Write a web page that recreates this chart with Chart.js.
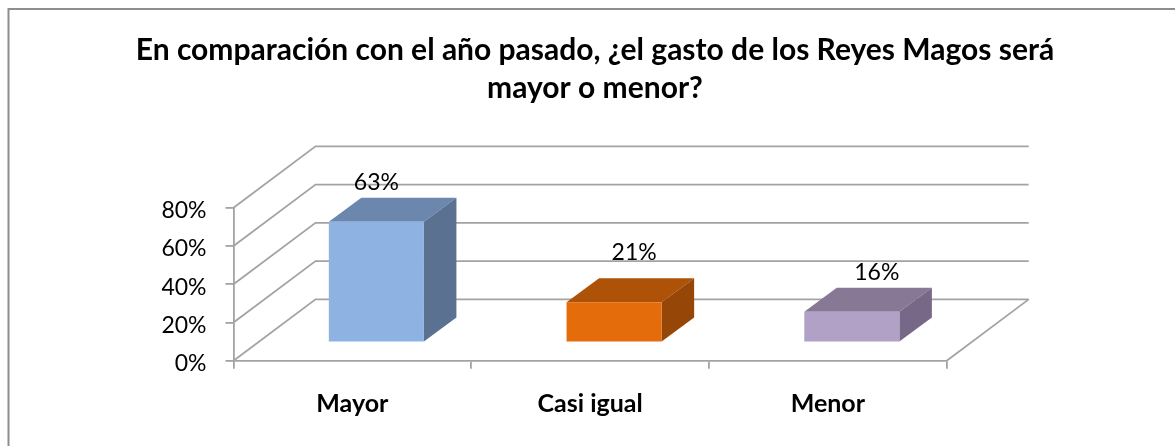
<!DOCTYPE html>
<html>
<head>
<meta charset="utf-8">
<title>Reyes Magos</title>
<script src="https://cdn.jsdelivr.net/npm/chart.js@4/dist/chart.umd.min.js"></script>
<style>
  html, body { margin: 0; padding: 0; background: #fff; }
  canvas { display: block; }
</style>
</head>
<body>
<canvas id="barChart" width="1175" height="446"></canvas>
<script>
const categories = ["Mayor", "Casi igual", "Menor"];
const values = [63, 21, 16];
const titleLines = ["En comparación con el año pasado, ¿el gasto de los Reyes Magos será", "mayor o menor?"];
const frontColors = ["#8EB2E2", "#E46C0A", "#B1A1C6"];
const topColors = ["#6B87AD", "#AE5208", "#877896"];
const sideColors = ["#5A7192", "#964607", "#776887"];

const FONT = "Lato, Carlito, sans-serif";
const LINE = "#a3a3a3";
// depth of the box and how far the bars sit inside it
const wall = { dx: 82, dy: -61.3 };
const inset = { dx: 24, dy: -18.4 };
const depth = { dx: 32.5, dy: -24 };
// labels were moved by hand in the original
const labelShift = [[0, -15], [20, -26], [25, -15.6]];

const box3d = {
  id: "box3d",
  beforeDraw(chart) {
    const ctx = chart.ctx;
    ctx.save();
    ctx.strokeStyle = "#8e8e8e";
    ctx.lineWidth = 2;
    ctx.beginPath();
    ctx.moveTo(8.5, chart.height);
    ctx.lineTo(8.5, 9);
    ctx.lineTo(chart.width, 9);
    ctx.stroke();
    ctx.restore();
  },
  beforeDatasetsDraw(chart) {
    const ctx = chart.ctx;
    const x = chart.scales.x;
    const y = chart.scales.y;
    ctx.save();
    ctx.strokeStyle = LINE;
    ctx.lineWidth = 1.8;
    y.ticks.forEach(function (t) {
      const py = y.getPixelForValue(t.value);
      ctx.beginPath();
      ctx.moveTo(x.left, py);
      ctx.lineTo(x.left + wall.dx, py + wall.dy);
      ctx.lineTo(x.right + wall.dx, py + wall.dy);
      ctx.stroke();
    });
    ctx.beginPath();
    ctx.moveTo(x.right, y.bottom);
    ctx.lineTo(x.right + wall.dx, y.bottom + wall.dy);
    ctx.stroke();
    ctx.restore();

    // side and top faces, then the library draws the front faces on top
    ctx.save();
    ctx.translate(inset.dx, inset.dy);
    chart.getDatasetMeta(0).data.forEach(function (bar, i) {
      const l = bar.x - bar.width / 2;
      const r = bar.x + bar.width / 2;
      ctx.fillStyle = topColors[i];
      ctx.beginPath();
      ctx.moveTo(l, bar.y);
      ctx.lineTo(l + depth.dx, bar.y + depth.dy);
      ctx.lineTo(r + depth.dx, bar.y + depth.dy);
      ctx.lineTo(r, bar.y);
      ctx.closePath();
      ctx.fill();
      ctx.fillStyle = sideColors[i];
      ctx.beginPath();
      ctx.moveTo(r, bar.y);
      ctx.lineTo(r + depth.dx, bar.y + depth.dy);
      ctx.lineTo(r + depth.dx, bar.base + depth.dy);
      ctx.lineTo(r, bar.base);
      ctx.closePath();
      ctx.fill();
    });
  },
  afterDatasetsDraw(chart) {
    const ctx = chart.ctx;
    ctx.restore();
    ctx.save();
    ctx.fillStyle = "#000";
    ctx.font = "23px " + FONT;
    ctx.textAlign = "center";
    ctx.textBaseline = "middle";
    chart.getDatasetMeta(0).data.forEach(function (bar, i) {
      const lx = bar.x + inset.dx + labelShift[i][0];
      const ly = bar.y + inset.dy + depth.dy + labelShift[i][1];
      ctx.fillText(values[i] + "%", lx, ly);
    });
    ctx.restore();
  }
};

new Chart(document.getElementById("barChart"), {
  type: "bar",
  data: {
    labels: categories,
    datasets: [{
      data: values,
      backgroundColor: frontColors,
      categoryPercentage: 1,
      barPercentage: 0.4
    }]
  },
  plugins: [box3d],
  options: {
    responsive: false,
    animation: false,
    layout: { padding: { left: 15, right: 0, top: 0, bottom: 0 } },
    plugins: {
      legend: { display: false },
      tooltip: { enabled: false },
      title: {
        display: true,
        text: titleLines,
        color: "#000",
        font: { family: FONT, size: 30, weight: "bold", lineHeight: 37.5 / 30 },
        padding: { top: 32, bottom: 100.7 }
      }
    },
    scales: {
      x: {
        grid: { color: LINE, lineWidth: 1.8, drawOnChartArea: false, tickLength: 8 },
        border: { color: LINE, width: 1.8 },
        ticks: {
          color: "#000",
          padding: 20,
          maxRotation: 0,
          font: { family: FONT, size: 25, weight: "bold" }
        },
        afterFit(s) { s.height = 85.3; }
      },
      y: {
        min: 0,
        max: 80,
        grid: { color: LINE, lineWidth: 1.8, drawOnChartArea: false, tickLength: 8 },
        border: { color: LINE, width: 1.8 },
        ticks: {
          stepSize: 20,
          color: "#000",
          padding: 19,
          // empty first line + small line height nudges the text down a bit
          font: { family: FONT, size: 23, lineHeight: "6px" },
          callback(v) { return ["", v + "%"]; }
        },
        afterFit(s) { s.width = 218.5; }
      },
      // empty axis that only holds the space on the right of the plot
      pad: {
        position: "right",
        grid: { display: false },
        border: { display: false },
        ticks: { display: false },
        afterFit(s) { s.width = 228.3; }
      }
    }
  }
});
</script>
</body>
</html>
